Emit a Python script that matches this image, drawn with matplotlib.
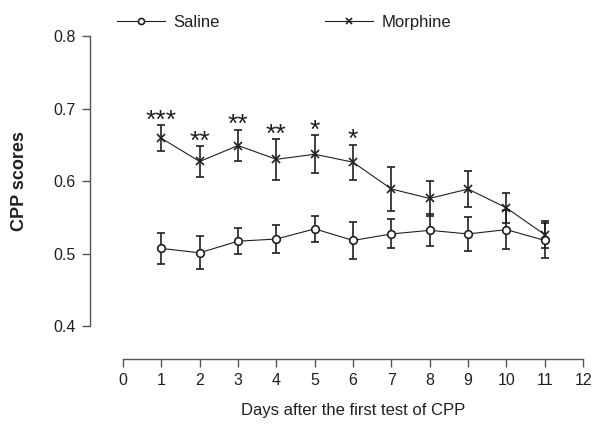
import matplotlib
matplotlib.use('Agg')
import matplotlib.pyplot as plt
import numpy as np

plt.rcParams['font.family'] = ['Liberation Sans', 'DejaVu Sans']

# data
days = [1, 2, 3, 4, 5, 6, 7, 8, 9, 10, 11]
saline = [0.507, 0.501, 0.517, 0.520, 0.534, 0.518, 0.527, 0.532, 0.527, 0.533, 0.518]
saline_err = [0.021, 0.023, 0.018, 0.019, 0.018, 0.026, 0.020, 0.022, 0.023, 0.027, 0.024]
morphine = [0.659, 0.627, 0.649, 0.630, 0.637, 0.626, 0.589, 0.576, 0.589, 0.563, 0.526]
morphine_err = [0.018, 0.021, 0.022, 0.028, 0.026, 0.024, 0.030, 0.024, 0.025, 0.021, 0.019]
stars = ['***', '**', '**', '**', '*', '*', '', '', '', '', '']

ink = '#231f20'

fig = plt.figure(figsize=(6.03, 4.25), dpi=100)
ax = fig.add_axes([0.204, 0.233, 0.763, 0.682])

morph = ax.errorbar(days, morphine, yerr=morphine_err, color=ink, lw=0.8, marker='x',
                    ms=6, mew=1.2, elinewidth=1.2, capsize=3, capthick=1.2,
                    zorder=2)
sal = ax.errorbar(days, saline, yerr=saline_err, color=ink, lw=0.8, marker='o',
                  ms=5.5, mfc='white', mew=1.2, elinewidth=1.2, capsize=3, capthick=1.2,
                  zorder=3)

# significance stars, just above the morphine error caps
for d, m, e, s in zip(days, morphine, morphine_err, stars):
    if s:
        ax.annotate(s, (d, m + e), xytext=(0, -1.8), textcoords='offset points',
                    ha='center', va='baseline', fontsize=19, color=ink)

ax.set_xlim(0, 12)
ax.set_ylim(0.4, 0.8)
ax.set_xticks(range(0, 13))
ax.set_yticks([0.4, 0.5, 0.6, 0.7, 0.8])
ax.set_yticklabels(['0.4', '0.5', '0.6', '0.7', '0.8'])

for side in ['top', 'right']:
    ax.spines[side].set_visible(False)
ax.spines['left'].set_position(('outward', 24))
ax.spines['bottom'].set_position(('outward', 24))
for side in ['left', 'bottom']:
    ax.spines[side].set_color('#555555')
    ax.spines[side].set_linewidth(1.0)
ax.tick_params(colors='#555555', labelcolor=ink, labelsize=11.5, length=6, width=1.0)
ax.tick_params(axis='y', pad=4)

ax.set_xlabel('Days after the first test of CPP', fontsize=12, color=ink, labelpad=11)
ax.set_ylabel('CPP scores', fontsize=13, fontweight='bold', color=ink, labelpad=18)

leg = fig.legend([sal.lines[0], morph.lines[0]], ['Saline', 'Morphine'],
                 loc='center left', bbox_to_anchor=(0.194, 0.948), ncol=2,
                 frameon=False, fontsize=12, handlelength=2.9, handletextpad=0.5,
                 columnspacing=6.3, borderpad=0, borderaxespad=0, markerscale=0.8)
for t in leg.get_texts():
    t.set_color(ink)

fig.savefig('out.png', dpi=100)
